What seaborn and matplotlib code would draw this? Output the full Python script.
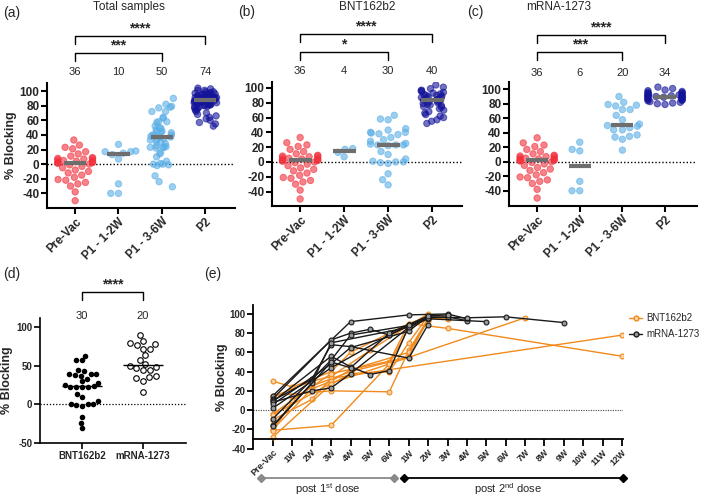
import numpy as np
import pandas as pd
import matplotlib
matplotlib.use('Agg')
import matplotlib.pyplot as plt
import seaborn as sns
from matplotlib import transforms
from matplotlib.lines import Line2D

# ---------------- data ----------------
GROUPS = ['Pre-Vac', 'P1 - 1-2W', 'P1 - 3-6W', 'P2']
VACCINES = ['BNT162b2', 'mRNA-1273']

PREVAC = [33, 26, 23, 21, 17, 14, 11, 9, 8, 8, 7, 6, 5, 5, 4, 3, 3, 2, 2, 1,
          0, -1, -3, -5, -8, -10, -12, -15, -18, -21, -22, -25, -27, -30, -38, -50]
BNT_P1_12W = [18, 17, 13, 7]
MRNA_P1_12W = [27, 17, 15, -27, -40, -40]
BNT_P1_36W = [63, 58, 57, 45, 43, 40, 40, 39, 38, 37, 33, 30, 28, 25, 24,
              23, 23, 23, 22, 14, 10, 4, 1, 0, 0, -1, -2, -16, -24, -31]
MRNA_P1_36W = [90, 82, 79, 78, 77, 72, 72, 64, 58, 52,
               50, 49, 47, 44, 44, 37, 35, 34, 31, 16]
BNT_P2 = [104, 101, 99, 97, 96, 95, 94, 93, 92, 91, 90, 90, 89, 88, 87, 86, 86, 85, 84, 84,
          83, 82, 81, 80, 79, 78, 77, 76, 75, 74, 72, 70, 68, 66, 64, 62, 60, 57, 55, 52]
MRNA_P2 = [103, 101, 99, 98, 97, 96, 95, 95, 94, 93, 93, 92, 92, 91, 91, 91, 91,
           90, 90, 90, 89, 89, 88, 88, 87, 87, 86, 85, 85, 84, 83, 82, 81, 80, 79]

COUNTS_A = [36, 10, 50, 74]
COUNTS_B = [36, 4, 30, 40]
COUNTS_C = [36, 6, 20, 34]
COUNTS_D = [30, 20]

E_TICKS = ['Pre-Vac', '1W', '2W', '3W', '4W', '5W', '6W',
           '1W', '2W', '3W', '4W', '5W', '6W', '7W', '8W', '9W', '10W', '11W', '12W']
# (time index into E_TICKS, % blocking) per subject
BNT_TRAJ = [
    [(0, 30), (1, 24), (3, 40), (4, 60), (7, 90), (8, 97), (9, 96)],
    [(0, 15), (3, 20), (6, 19), (7, 62), (8, 95), (9, 95)],
    [(0, 14), (2, 30), (3, 35), (5, 62), (7, 88), (8, 100)],
    [(0, -4), (2, 25), (4, 40), (6, 50), (7, 90), (9, 85), (18, 56)],
    [(0, -5), (3, 28), (6, 48), (13, 96)],
    [(0, -10), (2, 11), (3, 33), (6, 42), (18, 78)],
    [(0, -21), (3, -16), (6, 48), (7, 85), (8, 95)],
    [(0, -20), (2, 22), (3, 30), (4, 42), (7, 60), (8, 93)],
    [(0, -28), (3, 27), (4, 38), (6, 40), (7, 70), (8, 98)],
    [(0, -22), (1, 10), (3, 38), (7, 55), (8, 96)],
]
MRNA_TRAJ = [
    [(0, 15), (4, 92), (7, 99), (9, 100), (10, 95)],
    [(0, 12), (3, 73), (4, 80), (5, 84), (6, 78), (7, 88), (8, 96), (9, 97), (10, 93)],
    [(0, 10), (2, 32), (3, 68), (4, 66), (7, 54), (8, 89)],
    [(0, 9), (3, 56), (4, 45), (5, 37), (6, 41), (7, 87), (8, 97), (10, 96), (12, 97), (15, 91)],
    [(0, 8), (2, 20), (3, 23), (4, 38), (7, 86), (8, 95), (11, 92)],
    [(0, 6), (3, 48), (4, 65), (7, 82), (8, 98)],
    [(0, 2), (2, 30), (3, 44), (6, 78), (7, 88)],
    [(0, -9), (3, 52), (4, 78), (7, 88), (8, 96)],
    [(0, -16), (2, 28), (3, 70), (7, 86)],
    [(0, -17), (3, 50), (4, 44), (6, 80), (7, 89), (8, 98), (9, 99)],
]

# ---------------- style ----------------
sns.set_theme(style='ticks')
plt.rcParams['font.family'] = ['Liberation Sans', 'DejaVu Sans']
plt.rcParams['mathtext.fontset'] = 'custom'
plt.rcParams['mathtext.rm'] = 'Liberation Sans'
plt.rcParams['mathtext.it'] = 'Liberation Sans:italic'
plt.rcParams['mathtext.bf'] = 'Liberation Sans:bold'
np.random.seed(3)

PALETTE = {'Pre-Vac': '#F2303C', 'P1 - 1-2W': '#5AAEE6', 'P1 - 3-6W': '#5AAEE6', 'P2': '#14149A'}
ORANGE = '#F18A1C'
BLACK = '#1a1a1a'

W, H = 709, 496
fig = plt.figure(figsize=(W / 100, H / 100), dpi=100)


def rect(l, t, r, b):
    return [l / W, 1 - b / H, (r - l) / W, (b - t) / H]


def fy(ypx):
    return 1 - ypx / H


def style_axes(ax, lw=1.5):
    for s in ['top', 'right']:
        ax.spines[s].set_visible(False)
    for s in ['left', 'bottom']:
        ax.spines[s].set_linewidth(lw)
        ax.spines[s].set_color('black')
    ax.tick_params(direction='out', width=lw, length=4, color='black', pad=1.5)


def bracket(ax, x0, x1, ypx, leg, text, star_size=10):
    tr = transforms.blended_transform_factory(ax.transData, fig.transFigure)
    ax.plot([x0, x0, x1, x1], [fy(ypx + leg), fy(ypx), fy(ypx), fy(ypx + leg)],
            color='black', lw=1.0, transform=tr, clip_on=False)
    ax.text((x0 + x1) / 2, fy(ypx - 1), text, transform=tr, ha='center', va='bottom',
            fontsize=star_size, fontweight='bold')


def counts(ax, vals, ypx, size=8):
    tr = transforms.blended_transform_factory(ax.transData, fig.transFigure)
    for i, v in enumerate(vals):
        ax.text(i, fy(ypx), str(v), transform=tr, ha='center', va='center', fontsize=size)


def swarm_panel(r, lists, ylim, xlim, cnts, cnt_y, brackets, ylabel):
    ax = fig.add_axes(rect(*r))
    df = pd.DataFrame({'group': np.repeat(GROUPS, [len(d) for d in lists]),
                       'value': np.concatenate(lists)})
    sizes = df.groupby('group')['value'].transform('size')
    dense = df[sizes > 37]
    sparse = df[sizes <= 37]
    kw = dict(x='group', y='value', hue='group', order=GROUPS, hue_order=GROUPS,
              palette=PALETTE, size=4.6, alpha=0.6, linewidth=0.7, edgecolor='face',
              legend=False, ax=ax)
    sns.swarmplot(data=sparse, warn_thresh=1, **kw)
    if len(dense):
        sns.stripplot(data=dense, jitter=0.28, **kw)
    meds = df.groupby('group')['value'].median().reindex(GROUPS).values
    pos = np.arange(len(GROUPS))
    ax.hlines(meds, pos - 0.26, pos + 0.26, color='#6e6e6e', lw=3, zorder=6)
    ax.axhline(0, color='black', ls=(0, (1, 1.5)), lw=1.0, zorder=0)
    ax.set_ylim(*ylim)
    ax.set_xlim(*xlim)
    ax.set_yticks(range(-40, 101, 20))
    ax.set_yticklabels([str(v) for v in range(-40, 101, 20)], fontsize=8.5, fontweight='bold')
    ax.set_xticks(pos)
    ax.set_xticklabels(GROUPS, rotation=45, ha='right', rotation_mode='anchor',
                       fontsize=8.5, fontweight='bold')
    ax.set_xlabel('')
    if ylabel:
        ax.set_ylabel('% Blocking', fontsize=9, fontweight='bold', labelpad=2)
    else:
        ax.set_ylabel('')
    style_axes(ax)
    counts(ax, cnts, cnt_y)
    for (x0, x1, ypx, leg, txt) in brackets:
        bracket(ax, x0, x1, ypx, leg, txt)
    return ax


# panel (a)
ax_a = swarm_panel((47, 83, 235, 208),
                   [PREVAC, BNT_P1_12W + MRNA_P1_12W, BNT_P1_36W + MRNA_P1_36W, BNT_P2 + MRNA_P2],
                   (-60, 111), (-0.65, 3.69), COUNTS_A, 72,
                   [(0, 3, 36, 8, '****'), (0, 2, 53, 8, '***')], True)
# panel (b)
ax_b = swarm_panel((272, 82, 462, 206),
                   [PREVAC, BNT_P1_12W, BNT_P1_36W, BNT_P2],
                   (-59.5, 108), (-0.64, 3.68), COUNTS_B, 71,
                   [(0, 3, 34, 8, '****'), (0, 2, 52, 8, '*')], False)
# panel (c)
ax_c = swarm_panel((509, 82, 697, 206),
                   [PREVAC, MRNA_P1_12W, MRNA_P1_36W, MRNA_P2],
                   (-61, 110), (-0.66, 3.75), COUNTS_C, 73,
                   [(0, 3, 35, 8, '****'), (0, 2, 52, 8, '***')], False)

fig.text(129 / W, fy(7), 'Total samples', ha='center', va='center', fontsize=8.5)
fig.text(367 / W, fy(7), 'BNT162b2', ha='center', va='center', fontsize=8.5)
fig.text(559 / W, fy(7), 'mRNA-1273', ha='center', va='center', fontsize=8.5)
for lx, ly, lt in [(12, 13, '(a)'), (247, 12, '(b)'), (475, 12, '(c)'),
                   (12, 274, '(d)'), (213, 274, '(e)')]:
    fig.text(lx / W, fy(ly), lt, ha='center', va='center', fontsize=10)

# panel (d)
ax_d = fig.add_axes(rect(40, 318, 186, 443))
df_d = pd.DataFrame({'vaccine': np.repeat(VACCINES, [len(BNT_P1_36W), len(MRNA_P1_36W)]),
                     'value': BNT_P1_36W + MRNA_P1_36W})
sns.swarmplot(data=df_d[df_d.vaccine == VACCINES[0]], x='vaccine', y='value', order=VACCINES,
              color='black', size=4, linewidth=0, ax=ax_d)
sns.swarmplot(data=df_d[df_d.vaccine == VACCINES[1]], x='vaccine', y='value', order=VACCINES,
              color='white', edgecolor='black', size=4, linewidth=0.8, ax=ax_d)
meds_d = df_d.groupby('vaccine')['value'].median().reindex(VACCINES).values
ax_d.hlines(meds_d, np.arange(2) - 0.33, np.arange(2) + 0.33, color='black', lw=1.0, zorder=6)
ax_d.axhline(0, color='black', ls=(0, (1, 1.5)), lw=0.9, zorder=0)
ax_d.set_ylim(-50, 112)
ax_d.set_xlim(-0.69, 1.71)
ax_d.set_yticks([-50, 0, 50, 100])
ax_d.set_yticklabels(['-50', '0', '50', '100'], fontsize=7, fontweight='bold')
ax_d.set_xticks([0, 1])
ax_d.set_xticklabels(VACCINES, fontsize=7, fontweight='bold')
ax_d.set_xlabel('')
ax_d.set_ylabel('% Blocking', fontsize=9, fontweight='bold', labelpad=2)
style_axes(ax_d, lw=1.2)
counts(ax_d, COUNTS_D, 316, size=8)
bracket(ax_d, 0, 1, 292, 8, '****')

# panel (e)
ax_e = fig.add_axes(rect(253, 305, 623, 449))
rows = []
for vac, trajs in [(VACCINES[0], BNT_TRAJ), (VACCINES[1], MRNA_TRAJ)]:
    for k, tr in enumerate(trajs):
        for t, v in tr:
            rows.append({'vaccine': vac, 'subject': f'{vac}-{k}', 't': t, 'value': v})
df_e = pd.DataFrame(rows)
sns.lineplot(data=df_e[df_e.vaccine == VACCINES[0]], x='t', y='value', units='subject',
             estimator=None, color=ORANGE, lw=1.0, marker='o', markersize=3.5,
             markerfacecolor='#FBD3A6', markeredgecolor=ORANGE, markeredgewidth=0.8, ax=ax_e)
sns.lineplot(data=df_e[df_e.vaccine == VACCINES[1]], x='t', y='value', units='subject',
             estimator=None, color=BLACK, lw=1.0, marker='o', markersize=3.5,
             markerfacecolor='#9a9a9a', markeredgecolor=BLACK, markeredgewidth=0.8, ax=ax_e)
ax_e.axhline(0, color='#444444', ls=(0, (1, 1.2)), lw=0.8, zorder=0)
ax_e.set_ylim(-40.5, 109.3)
ax_e.set_xlim(-1.03, 18.05)
ax_e.spines['bottom'].set_position(('data', -30))
ax_e.set_yticks(range(-40, 101, 20))
ax_e.set_yticklabels([str(v) for v in range(-40, 101, 20)], fontsize=7, fontweight='bold')
ax_e.set_xticks(range(len(E_TICKS)))
ax_e.set_xticklabels(E_TICKS, rotation=45, ha='right', rotation_mode='anchor',
                     fontsize=6.5, fontweight='bold')
ax_e.set_xlabel('')
ax_e.set_ylabel('% Blocking', fontsize=9, fontweight='bold', labelpad=1)
style_axes(ax_e, lw=1.3)
ax_e.tick_params(axis='x', length=5)
handles = [Line2D([], [], color=ORANGE, lw=1.0, marker='o', markersize=3.5,
                  markerfacecolor='#FBD3A6', markeredgecolor=ORANGE),
           Line2D([], [], color=BLACK, lw=1.0, marker='o', markersize=3.5,
                  markerfacecolor='#9a9a9a', markeredgecolor=BLACK)]
ax_e.legend(handles, VACCINES, loc='upper left', bbox_to_anchor=(1.005, 0.97), frameon=False,
            fontsize=7, handlelength=1.4, handletextpad=0.4, labelspacing=0.6, borderaxespad=0)

tre = transforms.blended_transform_factory(ax_e.transData, fig.transFigure)
ax_e.plot([-0.62, 6.24], [fy(478), fy(478)], color='#8a8a8a', lw=1.3, marker='D',
          markersize=4.5, transform=tre, clip_on=False)
ax_e.plot([6.75, 18.04], [fy(478), fy(478)], color='black', lw=1.3, marker='D',
          markersize=4.5, transform=tre, clip_on=False)
ax_e.text(2.84, fy(489), r'post 1$^{\mathrm{st}}$ dose', transform=tre, ha='center',
          va='center', fontsize=8)
ax_e.text(12.1, fy(489), r'post 2$^{\mathrm{nd}}$ dose', transform=tre, ha='center',
          va='center', fontsize=8)

fig.savefig('out.png', dpi=100)
